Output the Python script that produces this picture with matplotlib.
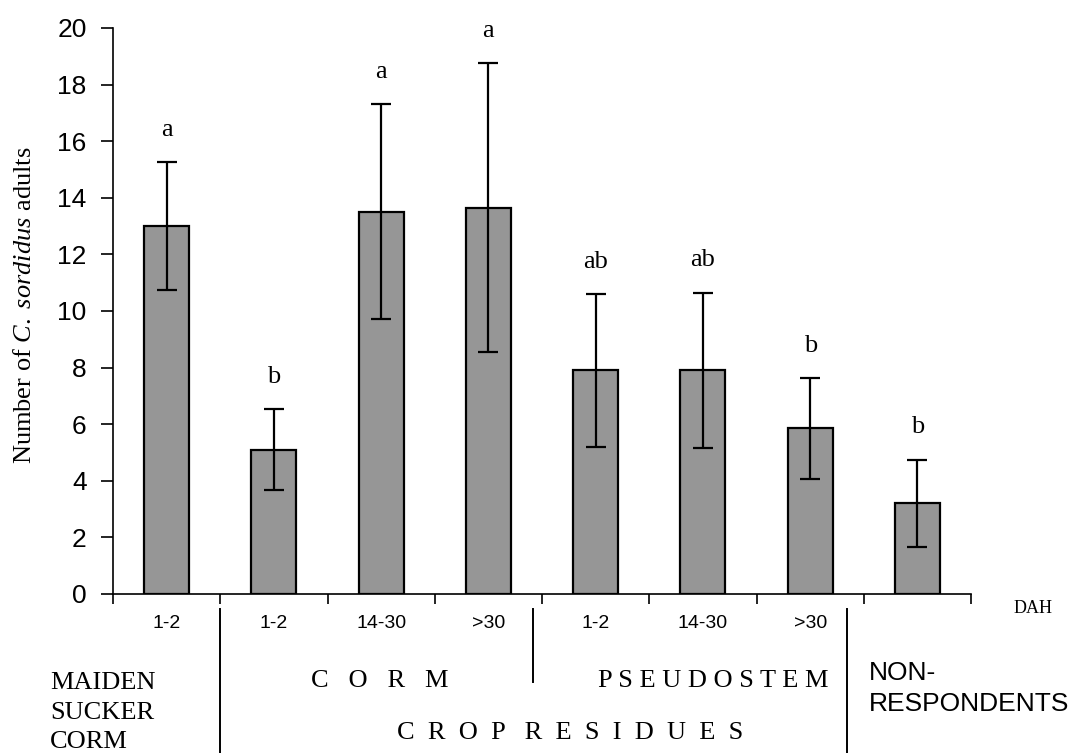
import matplotlib
matplotlib.use("Agg")
import matplotlib.pyplot as plt

# Mean number of adults per bait type (± error) and significance letters
dah_labels = ["1-2", "1-2", "14-30", ">30", "1-2", "14-30", ">30", ""]
means = [13.0, 5.1, 13.5, 13.65, 7.9, 7.9, 5.85, 3.2]
errors = [2.25, 1.42, 3.8, 5.1, 2.7, 2.75, 1.78, 1.55]
letters = ["a", "b", "a", "a", "ab", "ab", "b", "b"]

SANS = "Liberation Sans"
SERIF = "Liberation Serif"

plt.rcParams["mathtext.fontset"] = "custom"
plt.rcParams["mathtext.rm"] = SERIF
plt.rcParams["mathtext.it"] = SERIF + ":italic"

fig = plt.figure(figsize=(10.74, 7.53), dpi=100)
ax = fig.add_axes([0.1052, 0.2112, 0.7990, 0.7517])

x = list(range(len(means)))
ax.bar(x, means, width=0.42, color="#969696", edgecolor="black", linewidth=1.6, zorder=2)
ax.errorbar(x, means, yerr=errors, fmt="none", ecolor="black", elinewidth=1.6,
            capsize=7, capthick=1.6, zorder=3)

for xi, m, e, lab in zip(x, means, errors, letters):
    ax.annotate(lab, (xi, m + e), xytext=(0, 19), textcoords="offset points",
                ha="center", va="baseline", fontsize=19, family=SERIF)

ax.set_xlim(-0.5, len(means) - 0.5)
ax.set_ylim(0, 20)
ax.set_yticks(range(0, 21, 2))
ax.set_yticklabels([str(v) for v in range(0, 21, 2)], family=SANS, fontsize=19)
ax.set_xticks([i - 0.5 for i in range(len(means) + 1)])
ax.set_xticklabels([])
ax.tick_params(axis="y", direction="out", length=9, width=1.2, pad=10)
ax.tick_params(axis="x", direction="out", length=7, width=1.2)
for side in ("top", "right"):
    ax.spines[side].set_visible(False)
for side in ("left", "bottom"):
    ax.spines[side].set_linewidth(1.2)

ax.set_ylabel("Number of $\\mathit{C.\\ sordidus}$ adults", family=SERIF, fontsize=19)
ax.yaxis.set_label_coords(-0.090, 0.51)

tr = ax.get_xaxis_transform()

# DAH category labels under each bar
for xi, lab in zip(x, dah_labels):
    ax.text(xi, -0.052, lab, transform=tr, ha="center", va="center",
            family=SANS, fontsize=14)
ax.text(8.08, -0.025, "DAH", transform=tr, ha="center", va="center",
        family=SERIF, fontsize=13)

# group separators
ax.plot([0.5, 0.5], [-0.027, -0.29], transform=tr, color="black", lw=1.4, clip_on=False)
ax.plot([3.42, 3.42], [-0.027, -0.155], transform=tr, color="black", lw=1.4, clip_on=False)
ax.plot([6.34, 6.34], [-0.027, -0.29], transform=tr, color="black", lw=1.4, clip_on=False)

# group names
for yf, word in zip([-0.157, -0.210, -0.262], ["MAIDEN", "SUCKER", "CORM"]):
    ax.text(-1.087, yf, word, transform=tr, ha="left", va="center",
            family=SERIF, fontsize=19)
ax.text(1.99, -0.153, "C   O   R   M", transform=tr, ha="center", va="center",
        family=SERIF, fontsize=19)
ax.text(5.10, -0.153, "P S E U D O S T E M", transform=tr, ha="center", va="center",
        family=SERIF, fontsize=19)
ax.text(3.76, -0.245, "C  R  O  P   R  E  S  I  D  U  E  S", transform=tr,
        ha="center", va="center", family=SERIF, fontsize=19)
ax.text(6.55, -0.140, "NON-", transform=tr, ha="left", va="center",
        family=SANS, fontsize=19)
ax.text(6.55, -0.194, "RESPONDENTS", transform=tr, ha="left", va="center",
        family=SANS, fontsize=19)

fig.savefig("out.png", dpi=100)
